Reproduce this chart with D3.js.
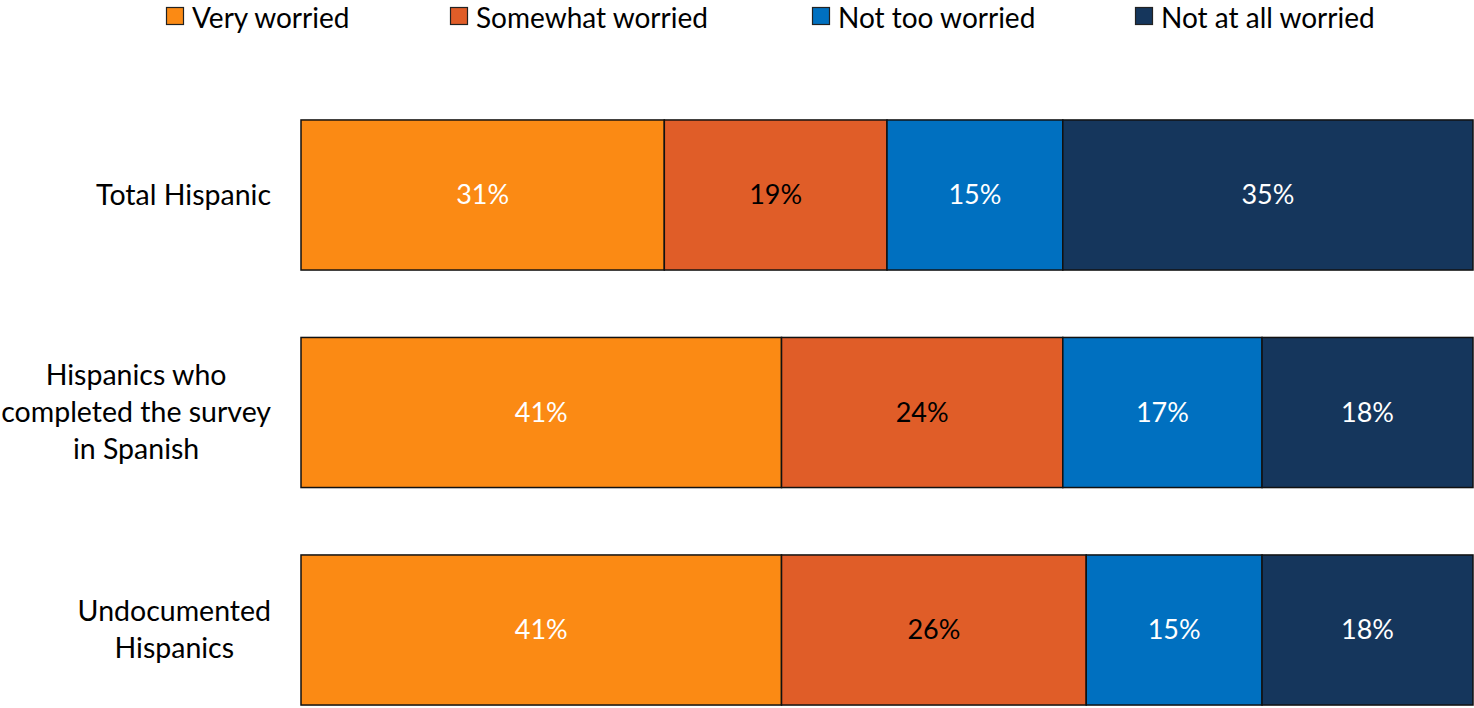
<!DOCTYPE html>
<html>
<head>
<meta charset="utf-8">
<script src="https://cdn.jsdelivr.net/npm/d3@7"></script>
<style>
  html, body { margin: 0; padding: 0; background: #fff; }
  svg { display: block; font-family: Lato, "Open Sans", sans-serif; }
</style>
</head>
<body>
<svg id="chart" width="1474" height="708"></svg>
<script>
// Survey groups (each label split into its display lines)
const categories = ["Total Hispanic", "Hispanics who completed the survey in Spanish", "Undocumented Hispanics"];
const categoryLines = [["Total Hispanic"], ["Hispanics who", "completed the survey", "in Spanish"], ["Undocumented", "Hispanics"]];

// Response options and their shares (%) per group
const seriesNames = ["Very worried", "Somewhat worried", "Not too worried", "Not at all worried"];
const veryWorried = [31, 41, 41];
const somewhatWorried = [19, 24, 26];
const notTooWorried = [15, 17, 15];
const notAtAllWorried = [35, 18, 18];

const colors = ["#FB8A14", "#E05D28", "#0070C0", "#15365C"];
const labelColors = ["#ffffff", "#000000", "#ffffff", "#ffffff"];

const seriesValues = [veryWorried, somewhatWorried, notTooWorried, notAtAllWorried];
const rows = categories.map((c, i) => {
  const r = { category: c };
  seriesNames.forEach((s, j) => r[s] = seriesValues[j][i]);
  return r;
});

const svg = d3.select("#chart");

const x = d3.scaleLinear().domain([0, 100]).range([301, 1473]);
const y = d3.scaleBand().domain(categories).range([86.25, 738.75]).paddingInner(0.31).paddingOuter(0.155);

const stacked = d3.stack().keys(seriesNames)(rows);

const layers = svg.append("g").selectAll("g")
  .data(stacked)
  .join("g");

layers.selectAll("rect")
  .data((d, i) => d.map(p => ({ p, i })))
  .join("rect")
  .attr("x", d => x(d.p[0]))
  .attr("y", d => y(d.p.data.category))
  .attr("width", d => x(d.p[1]) - x(d.p[0]))
  .attr("height", y.bandwidth())
  .attr("fill", d => colors[d.i])
  .attr("stroke", "#111")
  .attr("stroke-width", 1.5);

layers.selectAll("text")
  .data((d, i) => d.map(p => ({ p, i })))
  .join("text")
  .attr("x", d => (x(d.p[0]) + x(d.p[1])) / 2)
  .attr("y", d => y(d.p.data.category) + y.bandwidth() / 2)
  .attr("dy", "0.35em")
  .attr("text-anchor", "middle")
  .attr("font-size", 27)
  .attr("fill", d => labelColors[d.i])
  .text(d => (d.p[1] - d.p[0]) + "%");

// Category labels: block right-aligned, lines centred within the block
const labelRight = 271;
const lineGap = 37;
categories.forEach((c, i) => {
  const lines = categoryLines[i];
  const g = svg.append("g");
  const cy = y(c) + y.bandwidth() / 2;
  const texts = lines.map((ln, k) => g.append("text")
    .attr("y", cy + (k - (lines.length - 1) / 2) * lineGap)
    .attr("dy", "0.35em")
    .attr("text-anchor", "middle")
    .attr("font-size", 28.5)
    .attr("fill", "#000")
    .text(ln));
  const maxW = d3.max(texts, t => t.node().getComputedTextLength());
  texts.forEach(t => t.attr("x", labelRight - maxW / 2));
});

// Legend
const legendX = [166, 450, 812, 1135];
const legend = svg.append("g");
seriesNames.forEach((s, i) => {
  legend.append("rect")
    .attr("x", legendX[i] + 0.5)
    .attr("y", 7.5)
    .attr("width", 17)
    .attr("height", 17)
    .attr("fill", colors[i])
    .attr("stroke", "#222")
    .attr("stroke-width", 1.2);
  legend.append("text")
    .attr("x", legendX[i] + 26)
    .attr("y", 27.5)
    .attr("font-size", 28)
    .attr("fill", "#000")
    .text(s);
});
</script>
</body>
</html>
